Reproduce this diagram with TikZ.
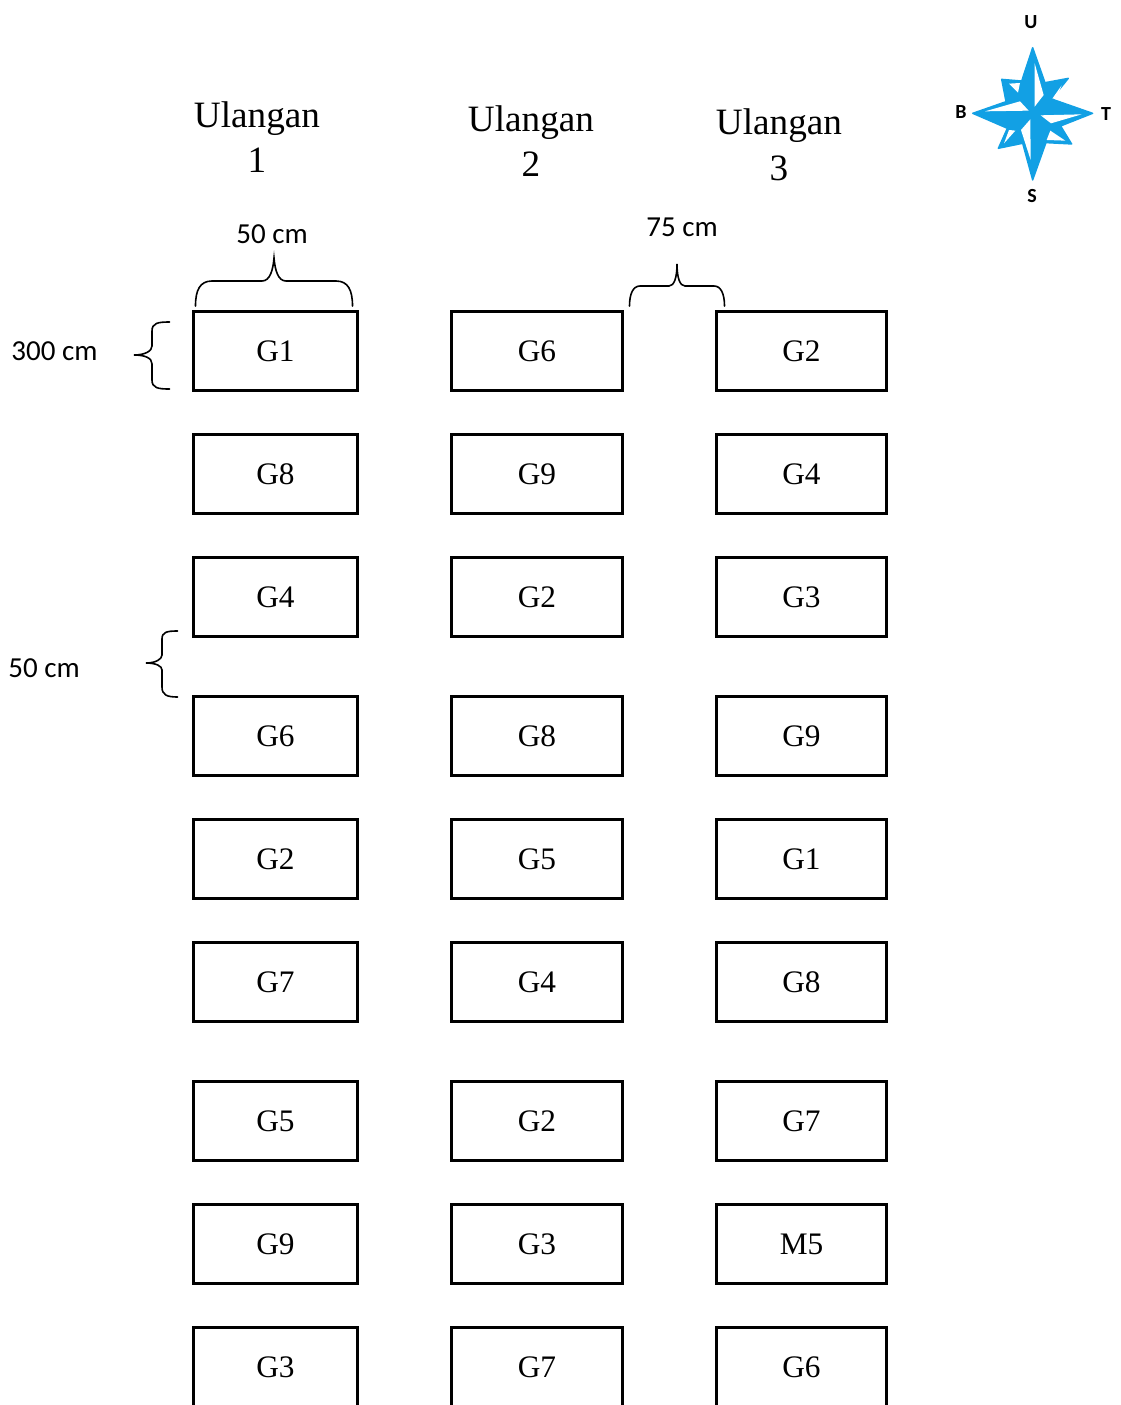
\documentclass[tikz,border=0pt]{standalone}
\usepackage{fontspec}
\setmainfont{Liberation Serif}
\newfontfamily\calib{Carlito}
\definecolor{compass}{HTML}{12A0E4}
\tikzset{
  x=1pt,y=-1pt,
  plot/.style={draw=black,line width=3pt,minimum width=#1,minimum height=78.5pt,inner sep=0pt,text height=21.5pt,text depth=0pt,font=\fontsize{31.3}{31.3}\selectfont},
  plotA/.style={plot=164pt},
  plotB/.style={plot=171pt},
  plotC/.style={plot=170pt},
  head/.style={align=center,font=\fontsize{37.2}{45.5}\selectfont,inner sep=0pt},
  dim/.style={font=\calib\fontsize{29}{29}\selectfont,inner sep=0pt},
  dir/.style={font=\calib\bfseries\fontsize{20}{20}\selectfont,inner sep=0pt},
  brace/.style={draw=black,line width=1.6pt,line cap=round},
  rose/.style={fill=compass,draw=compass,line width=1.4pt,line join=round},
  rosehole/.style={fill=white},
}
\begin{document}
\begin{tikzpicture}
\useasboundingbox (0,0) rectangle (1121,1405);
\clip (0,0) rectangle (1121,1405);
% headers
\node[head] (h1) at (257,137) {Ulangan\\1};
\node[head] (h2) at (531,141) {Ulangan\\2};
\node[head] (h3) at (779,145) {Ulangan\\3};
% column 1
\node[plotA] (a1) at (275.5,351) {G1};
\node[plotA] (a2) at (275.5,474) {G8};
\node[plotA] (a3) at (275.5,597) {G4};
\node[plotA] (a4) at (275.5,736) {G6};
\node[plotA] (a5) at (275.5,859) {G2};
\node[plotA] (a6) at (275.5,982) {G7};
\node[plotA] (a7) at (275.5,1121) {G5};
\node[plotA] (a8) at (275.5,1244) {G9};
\node[plotA] (a9) at (275.5,1367) {G3};
% column 2
\node[plotB] (b1) at (537,351) {G6};
\node[plotB] (b2) at (537,474) {G9};
\node[plotB] (b3) at (537,597) {G2};
\node[plotB] (b4) at (537,736) {G8};
\node[plotB] (b5) at (537,859) {G5};
\node[plotB] (b6) at (537,982) {G4};
\node[plotB] (b7) at (537,1121) {G2};
\node[plotB] (b8) at (537,1244) {G3};
\node[plotB] (b9) at (537,1367) {G7};
% column 3
\node[plotC] (c1) at (801.5,351) {G2};
\node[plotC] (c2) at (801.5,474) {G4};
\node[plotC] (c3) at (801.5,597) {G3};
\node[plotC] (c4) at (801.5,736) {G9};
\node[plotC] (c5) at (801.5,859) {G1};
\node[plotC] (c6) at (801.5,982) {G8};
\node[plotC] (c7) at (801.5,1121) {G7};
\node[plotC] (c8) at (801.5,1244) {M5};
\node[plotC] (c9) at (801.5,1367) {G6};
% dimension labels
\node[dim] (d1) at (272,234) {50 cm};
\node[dim] (d2) at (682,227) {75 cm};
\node[dim] (d3) at (54.5,351) {300 cm};
\node[dim] (d4) at (44,668) {50 cm};
% braces
\draw[brace] (195.5,306) .. controls (195.5,290) and (200,281) .. (212,281) -- (262,281) .. controls (270,281) and (273,270) .. (274,258) .. controls (275,270) and (278,281) .. (286,281) -- (336,281) .. controls (348,281) and (352.5,290) .. (352.5,306);
\draw[brace] (629.5,306) .. controls (629.5,294) and (633,286) .. (640,286) -- (669,286) .. controls (674,286) and (677,278) .. (677,264) .. controls (677,278) and (680,286) .. (685,286) -- (714,286) .. controls (721,286) and (724.5,294) .. (724.5,306);
\draw[brace] (169.5,322) .. controls (158,322) and (152,323) .. (152,331) -- (152,346) .. controls (152,351) and (145,355) .. (134,355) .. controls (145,355) and (152,358) .. (152,364) -- (152,380) .. controls (152,388) and (158,389) .. (169.5,389);
\draw[brace] (177.5,631) .. controls (167,631) and (162,632) .. (162,639) -- (162,655) .. controls (162,659) and (156,663) .. (146,663) .. controls (156,663) and (162,666) .. (162,670) -- (162,687) .. controls (162,695) and (167,697) .. (177.5,697);
% compass letters
\node[dir] (cu) at (1031,22) {U};
\node[dir] (cb) at (961,112) {B};
\node[dir] (ct) at (1106,114) {T};
\node[dir] (cs) at (1032,196) {S};
% compass rose
\begin{scope}[shift={(940,0)},x=0.3333pt,y=-0.3333pt]
 \draw[rose] (278,143) -- (315,248) -- (385,235) -- (335,297) -- (458,340) -- (362,378) -- (395,432) -- (318,428) -- (278,540) -- (248,430) -- (175,445) -- (202,385) -- (98,340) -- (198,305) -- (185,238) -- (245,243) -- cycle;
 % white facets
 \fill[rosehole] (284,190) -- (311,285) -- (284,320) -- cycle;
 \fill[rosehole] (425,343) -- (302,346) -- (333,370) -- cycle;
 \fill[rosehole] (243,390) -- (271,358) -- (272,480) -- cycle;
 \fill[rosehole] (135,334) -- (240,304) -- (266,332) -- cycle;
 \fill[rosehole] (207,251) -- (240,249) -- (234,278) -- cycle;
 \fill[rosehole] (365,256) -- (337,296) -- (352,288) -- cycle;
 \fill[rosehole] (331,392) -- (376,422) -- (320,420) -- cycle;
 \fill[rosehole] (192,430) -- (207,390) -- (226,392) -- cycle;
\end{scope}
\end{tikzpicture}
\end{document}
